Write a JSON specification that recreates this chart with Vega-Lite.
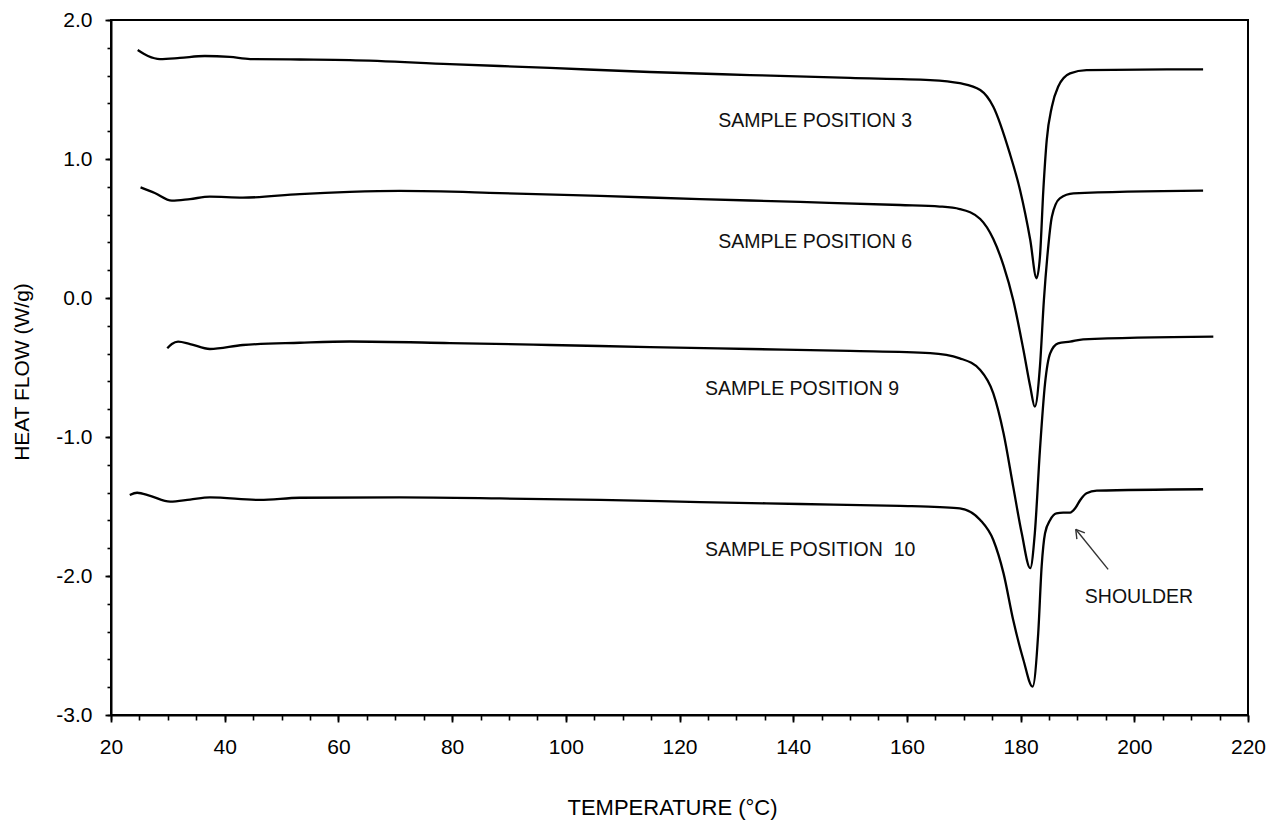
{
  "$schema": "https://vega.github.io/schema/vega-lite/v6.json",
  "width": 1137,
  "height": 695,
  "autosize": {"type": "none"},
  "padding": {"left": 111, "top": 20, "right": 34, "bottom": 111},
  "background": "white",
  "config": {
    "view": {"stroke": "black", "strokeWidth": 2},
    "font": "Liberation Sans",
    "axis": {"grid": false, "domainColor": "black", "tickColor": "black", "labelColor": "black", "titleColor": "black", "labelFont": "Liberation Sans", "titleFont": "Liberation Sans", "titleFontWeight": "normal"}
  },
  "datasets": {
    "curves": [
      {"s": "3", "T": 24.7, "H": 1.784}, {"s": "3", "T": 26.5, "H": 1.741}, {"s": "3", "T": 28.6, "H": 1.719}, {"s": "3", "T": 32.1, "H": 1.727}, {"s": "3", "T": 36.5, "H": 1.741}, {"s": "3", "T": 40.9, "H": 1.734}, {"s": "3", "T": 44.5, "H": 1.719}, {"s": "3", "T": 53.2, "H": 1.716}, {"s": "3", "T": 62.0, "H": 1.712}, {"s": "3", "T": 79.6, "H": 1.683}, {"s": "3", "T": 97.2, "H": 1.655}, {"s": "3", "T": 114.8, "H": 1.626}, {"s": "3", "T": 132.4, "H": 1.604}, {"s": "3", "T": 150.0, "H": 1.583}, {"s": "3", "T": 164.1, "H": 1.568},
      {"s": "3", "T": 169.3, "H": 1.545}, {"s": "3", "T": 172.9, "H": 1.496}, {"s": "3", "T": 175.2, "H": 1.376}, {"s": "3", "T": 178.1, "H": 1.04}, {"s": "3", "T": 179.9, "H": 0.777}, {"s": "3", "T": 181.7, "H": 0.417}, {"s": "3", "T": 182.8, "H": 0.142}, {"s": "3", "T": 183.4, "H": 0.295}, {"s": "3", "T": 184.0, "H": 0.777}, {"s": "3", "T": 184.6, "H": 1.137}, {"s": "3", "T": 185.5, "H": 1.376}, {"s": "3", "T": 186.6, "H": 1.52}, {"s": "3", "T": 188.7, "H": 1.616}, {"s": "3", "T": 191.6, "H": 1.64}, {"s": "3", "T": 212.1, "H": 1.645},

      {"s": "6", "T": 25.2, "H": 0.796}, {"s": "6", "T": 27.7, "H": 0.755}, {"s": "6", "T": 30.7, "H": 0.70}, {"s": "6", "T": 33.9, "H": 0.712}, {"s": "6", "T": 37.4, "H": 0.729}, {"s": "6", "T": 43.2, "H": 0.722}, {"s": "6", "T": 53.2, "H": 0.748}, {"s": "6", "T": 62.0, "H": 0.763}, {"s": "6", "T": 70.8, "H": 0.770}, {"s": "6", "T": 88.4, "H": 0.755}, {"s": "6", "T": 106.0, "H": 0.734}, {"s": "6", "T": 123.6, "H": 0.712}, {"s": "6", "T": 141.2, "H": 0.691}, {"s": "6", "T": 158.8, "H": 0.669}, {"s": "6", "T": 165.8, "H": 0.658},
      {"s": "6", "T": 169.3, "H": 0.64}, {"s": "6", "T": 172.9, "H": 0.568}, {"s": "6", "T": 175.2, "H": 0.424}, {"s": "6", "T": 177.0, "H": 0.233}, {"s": "6", "T": 178.7, "H": -0.014}, {"s": "6", "T": 180.5, "H": -0.374}, {"s": "6", "T": 181.7, "H": -0.638}, {"s": "6", "T": 182.5, "H": -0.782}, {"s": "6", "T": 183.4, "H": -0.494}, {"s": "6", "T": 184.1, "H": -0.014}, {"s": "6", "T": 184.7, "H": 0.297}, {"s": "6", "T": 185.5, "H": 0.585}, {"s": "6", "T": 186.9, "H": 0.717}, {"s": "6", "T": 189.3, "H": 0.753}, {"s": "6", "T": 212.1, "H": 0.772},

      {"s": "9", "T": 29.9, "H": -0.362}, {"s": "9", "T": 30.7, "H": -0.331}, {"s": "9", "T": 31.8, "H": -0.314}, {"s": "9", "T": 33.9, "H": -0.331}, {"s": "9", "T": 37.4, "H": -0.367}, {"s": "9", "T": 43.2, "H": -0.338}, {"s": "9", "T": 53.2, "H": -0.322}, {"s": "9", "T": 62.0, "H": -0.313}, {"s": "9", "T": 79.6, "H": -0.324}, {"s": "9", "T": 97.2, "H": -0.338}, {"s": "9", "T": 114.8, "H": -0.353}, {"s": "9", "T": 132.4, "H": -0.367}, {"s": "9", "T": 150.0, "H": -0.381}, {"s": "9", "T": 164.1, "H": -0.396},
      {"s": "9", "T": 169.3, "H": -0.434}, {"s": "9", "T": 172.9, "H": -0.518}, {"s": "9", "T": 175.2, "H": -0.686}, {"s": "9", "T": 177.0, "H": -0.973}, {"s": "9", "T": 178.7, "H": -1.357}, {"s": "9", "T": 180.2, "H": -1.693}, {"s": "9", "T": 181.7, "H": -1.944}, {"s": "9", "T": 182.5, "H": -1.693}, {"s": "9", "T": 183.4, "H": -1.094}, {"s": "9", "T": 184.3, "H": -0.614}, {"s": "9", "T": 185.2, "H": -0.398}, {"s": "9", "T": 186.6, "H": -0.326}, {"s": "9", "T": 188.7, "H": -0.314}, {"s": "9", "T": 191.0, "H": -0.297}, {"s": "9", "T": 213.9, "H": -0.278},

      {"s": "10", "T": 23.3, "H": -1.417}, {"s": "10", "T": 24.6, "H": -1.401}, {"s": "10", "T": 26.9, "H": -1.424}, {"s": "10", "T": 30.4, "H": -1.465}, {"s": "10", "T": 33.9, "H": -1.45}, {"s": "10", "T": 37.4, "H": -1.434}, {"s": "10", "T": 46.2, "H": -1.453}, {"s": "10", "T": 53.2, "H": -1.437}, {"s": "10", "T": 70.8, "H": -1.435}, {"s": "10", "T": 88.4, "H": -1.442}, {"s": "10", "T": 106.0, "H": -1.453}, {"s": "10", "T": 123.6, "H": -1.468}, {"s": "10", "T": 141.2, "H": -1.482}, {"s": "10", "T": 158.8, "H": -1.496}, {"s": "10", "T": 165.8, "H": -1.504},
      {"s": "10", "T": 169.3, "H": -1.513}, {"s": "10", "T": 172.9, "H": -1.597}, {"s": "10", "T": 175.2, "H": -1.741}, {"s": "10", "T": 177.0, "H": -1.981}, {"s": "10", "T": 178.7, "H": -2.317}, {"s": "10", "T": 180.5, "H": -2.604}, {"s": "10", "T": 182.1, "H": -2.796}, {"s": "10", "T": 183.1, "H": -2.412}, {"s": "10", "T": 183.7, "H": -1.933}, {"s": "10", "T": 184.3, "H": -1.693}, {"s": "10", "T": 185.2, "H": -1.597}, {"s": "10", "T": 186.3, "H": -1.549}, {"s": "10", "T": 187.5, "H": -1.544}, {"s": "10", "T": 188.7, "H": -1.544}, {"s": "10", "T": 189.6, "H": -1.513}, {"s": "10", "T": 190.5, "H": -1.453}, {"s": "10", "T": 191.6, "H": -1.405}, {"s": "10", "T": 193.4, "H": -1.386}, {"s": "10", "T": 212.1, "H": -1.376}
    ],
    "labels": [
      {"text": "SAMPLE POSITION 3", "T": 126.8, "H": 1.273},
      {"text": "SAMPLE POSITION 6", "T": 126.8, "H": 0.403},
      {"text": "SAMPLE POSITION 9", "T": 124.5, "H": -0.655},
      {"text": "SAMPLE POSITION\u00a0 10", "T": 124.5, "H": -1.813},
      {"text": "SHOULDER", "T": 191.3, "H": -2.149}
    ],
    "arrow": [
      {"x1": 195.4, "y1": -1.952, "x2": 189.7, "y2": -1.664},
      {"x1": 189.7, "y1": -1.664, "x2": 189.9, "y2": -1.735},
      {"x1": 189.7, "y1": -1.664, "x2": 191.3, "y2": -1.690}
    ]
  },
  "layer": [
    {
      "data": {"name": "curves"},
      "mark": {"type": "line", "color": "black", "strokeWidth": 2.3, "interpolate": "monotone"},
      "encoding": {
        "x": {"field": "T", "type": "quantitative", "scale": {"domain": [20, 220], "nice": false, "zero": false},
          "axis": {"orient": "bottom", "values": [20, 40, 60, 80, 100, 120, 140, 160, 180, 200, 220], "tickSize": 7, "tickWidth": 1.8, "domainWidth": 2, "labelFontSize": 21, "labelPadding": 14, "labelFlush": false, "labelOverlap": false, "title": "TEMPERATURE (°C)", "titleFontSize": 22, "titleX": 561, "titleY": 92, "titleBaseline": "middle"}},
        "y": {"field": "H", "type": "quantitative", "scale": {"domain": [-3, 2], "nice": false, "zero": false},
          "axis": {"orient": "left", "values": [-3, -2, -1, 0, 1, 2], "labelExpr": "replace(format(datum.value, '.1f'), '\u2212', '-')", "tickSize": 6, "tickWidth": 1.8, "domainWidth": 2, "labelFontSize": 21, "labelPadding": 13, "labelOverlap": false, "title": "HEAT FLOW (W/g)", "titleFontSize": 21, "titleX": -88.5, "titleY": 351.5, "titleBaseline": "middle"}},
        "detail": {"field": "s"}
      }
    },
    {
      "data": {"name": "arrow"},
      "mark": {"type": "rule", "color": "#333333", "strokeWidth": 1.4},
      "encoding": {
        "x": {"field": "x1", "type": "quantitative",
          "axis": {"orient": "bottom", "values": [20,25,30,35,40,45,50,55,60,65,70,75,80,85,90,95,100,105,110,115,120,125,130,135,140,145,150,155,160,165,170,175,180,185,190,195,200,205,210,215,220], "labels": false, "domain": false, "tickSize": 5, "tickWidth": 1.6, "title": null}},
        "y": {"field": "y1", "type": "quantitative",
          "axis": {"orient": "left", "values": [-3,-2.8,-2.6,-2.4,-2.2,-2,-1.8,-1.6,-1.4,-1.2,-1,-0.8,-0.6,-0.4,-0.2,0,0.2,0.4,0.6,0.8,1,1.2,1.4,1.6,1.8,2], "labels": false, "domain": false, "tickSize": 4, "tickWidth": 1.6, "title": null}},
        "x2": {"field": "x2"},
        "y2": {"field": "y2"}
      }
    },
    {
      "data": {"name": "labels"},
      "mark": {"type": "text", "align": "left", "baseline": "middle", "fontSize": 19.5, "font": "Liberation Sans", "color": "#111111"},
      "encoding": {
        "x": {"field": "T", "type": "quantitative", "axis": null},
        "y": {"field": "H", "type": "quantitative", "axis": null},
        "text": {"field": "text"}
      }
    }
  ],
  "resolve": {"axis": {"x": "independent", "y": "independent"}}
}
